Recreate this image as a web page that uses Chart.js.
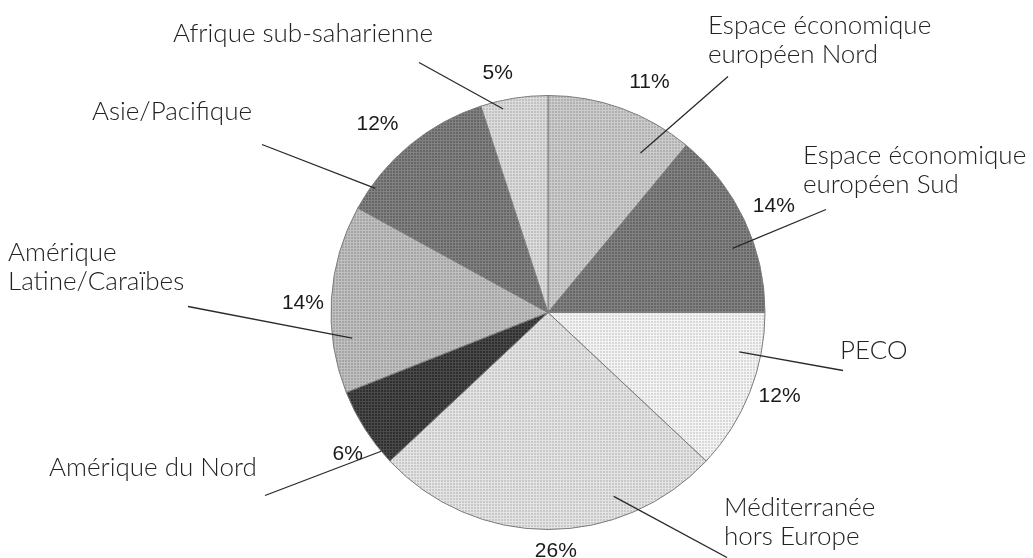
<!DOCTYPE html>
<html lang="fr">

<head>
  <meta charset="UTF-8">
  <meta name="viewport" content="width=device-width, initial-scale=1.0">
  <title>Répartition par zone</title>
  <script src="https://cdn.jsdelivr.net/npm/chart.js"></script>
  <style>
    body {
      margin: 0;
      padding: 0;
      background: #fff;
    }

    .wrap {
      position: relative;
      width: 1033px;
      height: 558px;
    }
  </style>
</head>

<body>
  <div class="wrap">
    <canvas id="pie"></canvas>
  </div>
  <script>
    // données
    const regions = [
      ['Espace économique', 'européen Nord'],
      ['Espace économique', 'européen Sud'],
      ['PECO'],
      ['Méditerranée', 'hors Europe'],
      ['Amérique du Nord'],
      ['Amérique', 'Latine/Caraïbes'],
      ['Asie/Pacifique'],
      ['Afrique sub-saharienne']
    ];
    const shares = [11, 14, 12, 26, 6, 14, 12, 5];

    // niveaux de gris des secteurs
    const grays = [192, 118, 232, 216, 62, 180, 118, 208];

    // mise en page des étiquettes (décalages par rapport au centre du camembert)
    // text: point de départ du texte, align, line: extrémité extérieure du trait,
    // inner: [position dans le secteur, fraction du rayon], pct: idem pour le pourcentage
    const calloutLayout = [
      { text: [160, -279], align: 'left', line: [180, -236], inner: [0.76, 0.85], pct: [0.60, 1.16] },
      { text: [255, -149], align: 'left', line: [278, -103], inner: [0.62, 0.90], pct: [0.50, 1.15] },
      { text: [292, 46], align: 'left', line: [295, 58], inner: [0.27, 0.90], pct: [0.46, 1.135] },
      { text: [176, 203], align: 'left', line: [179, 245], inner: [0.29, 0.90], pct: [0.48, 1.10] },
      { text: [-499, 163], align: 'left', line: [-283, 183], inner: [0.16, 1.0], pct: [0.37, 1.13] },
      { text: [-540, -52], align: 'left', line: [-360, -6], inner: [0.28, 0.91], pct: [0.47, 1.13] },
      { text: [-296, -193], align: 'right', line: [-286, -168], inner: [0.16, 0.98], pct: [0.44, 1.17] },
      { text: [-375, -271], align: 'left', line: [-129, -250], inner: [0.31, 0.96], pct: [0.34, 1.125] }
    ];

    // trame type "demi-teinte" : petits carrés sombres sur fond clair, pas de 3 px
    function halftone(g) {
      const c = document.createElement('canvas');
      c.width = 3;
      c.height = 3;
      const x = c.getContext('2d');
      const d = 12;
      const hi = Math.min(255, g + d);
      const lo = Math.max(0, Math.round(g - d * 1.25));
      x.fillStyle = `rgb(${hi},${hi},${hi})`;
      x.fillRect(0, 0, 3, 3);
      x.fillStyle = `rgb(${lo},${lo},${lo})`;
      x.fillRect(0, 0, 2, 2);
      return x.createPattern(c, 'repeat');
    }

    const callouts = {
      id: 'callouts',
      afterDatasetsDraw(chart) {
        const ctx = chart.ctx;
        const arcs = chart.getDatasetMeta(0).data;
        ctx.save();
        arcs.forEach((arc, i) => {
          const p = arc.getProps(['x', 'y', 'startAngle', 'endAngle', 'outerRadius'], true);
          const lay = calloutLayout[i];
          const at = (t, f) => {
            const a = p.startAngle + t * (p.endAngle - p.startAngle);
            return [p.x + Math.cos(a) * p.outerRadius * f, p.y + Math.sin(a) * p.outerRadius * f];
          };

          // trait de rappel
          const inner = at(lay.inner[0], lay.inner[1]);
          ctx.strokeStyle = '#2a2a2a';
          ctx.lineWidth = 1.3;
          ctx.beginPath();
          ctx.moveTo(p.x + lay.line[0], p.y + lay.line[1]);
          ctx.lineTo(inner[0], inner[1]);
          ctx.stroke();

          // pourcentage
          const pc = at(lay.pct[0], lay.pct[1]);
          ctx.fillStyle = '#1a1a1a';
          ctx.font = '21px "Liberation Sans", Arial, sans-serif';
          ctx.textAlign = 'center';
          ctx.textBaseline = 'middle';
          ctx.fillText(shares[i] + '%', pc[0], pc[1]);

          // nom de la zone
          ctx.fillStyle = '#222';
          ctx.font = '300 26px Lato, "Open Sans", sans-serif';
          ctx.textAlign = lay.align;
          ctx.textBaseline = 'alphabetic';
          regions[i].forEach((line, k) => {
            ctx.fillText(line, p.x + lay.text[0], p.y + lay.text[1] + k * 29);
          });
        });
        ctx.restore();
      }
    };

    new Chart(document.getElementById('pie'), {
      type: 'pie',
      data: {
        labels: regions.map(r => r.join(' ')),
        datasets: [{
          data: shares,
          backgroundColor: grays.map(halftone),
          borderColor: '#7c7c7c',
          borderWidth: 1
        }]
      },
      options: {
        responsive: true,
        maintainAspectRatio: false,
        animation: false,
        layout: {
          padding: { top: 95, bottom: 28, left: 63, right: 0 }
        },
        plugins: {
          legend: { display: false },
          tooltip: { enabled: false }
        }
      },
      plugins: [callouts]
    });
  </script>
</body>

</html>
